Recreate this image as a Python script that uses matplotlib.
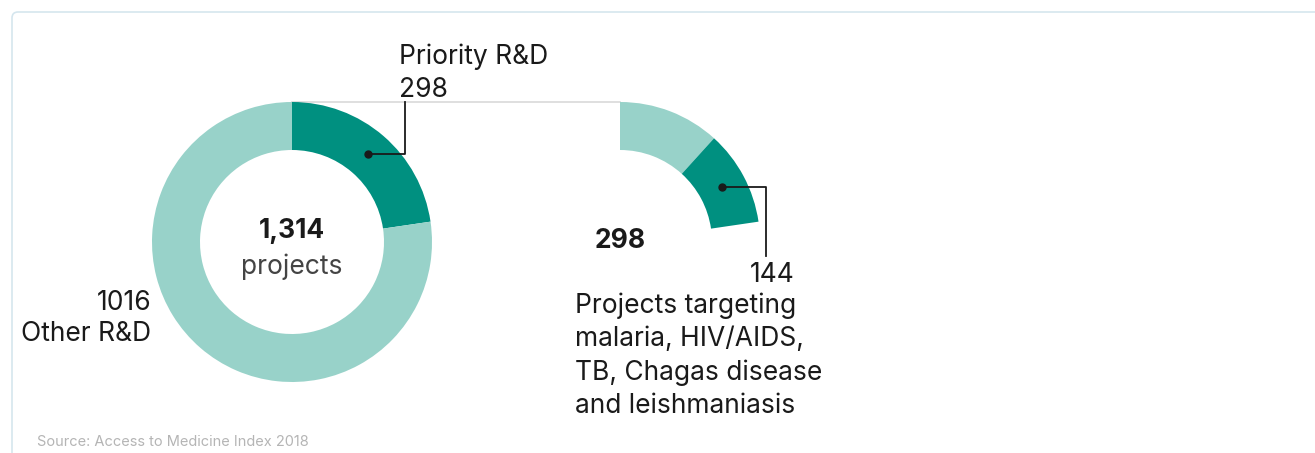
import numpy as np
import matplotlib.pyplot as plt
from matplotlib.patches import FancyBboxPatch

plt.rcParams['font.family'] = ['Inter', 'DejaVu Sans']

# data
total = 1314
groups = ["Priority R&D", "Other R&D"]
group_values = [298, 1016]
priority_split = ["Other priority", "Targeted diseases"]
priority_values = [154, 144]

light = "#98d2c9"
dark = "#009080"
ink = "#1a1a1a"

W, H = 1315, 453
fig = plt.figure(figsize=(W / 100, H / 100), dpi=100)
ax = fig.add_axes([0, 0, 1, 1])

R, width = 140, 48
c_left = (292, H - 242)
c_right = (620, H - 242)

# full donut
ax.pie(group_values, colors=[dark, light], startangle=90, counterclock=False,
       center=c_left, radius=R, wedgeprops=dict(width=width, linewidth=0))
# zoom of the priority part, same scale
ax.pie([v / total for v in priority_values], colors=[light, dark], normalize=False,
       startangle=90, counterclock=False, center=c_right, radius=R,
       wedgeprops=dict(width=width, linewidth=0))

ax.set_xlim(0, W)
ax.set_ylim(0, H)
ax.set_aspect('auto')
ax.axis('off')

# connector between the two rings
ax.plot([c_left[0], c_right[0]], [c_left[1] + R, c_right[1] + R], color="#d9d9d9", lw=1.2, zorder=0)

fs = 19

# leader for Priority R&D
rm = R - width / 2
ang = np.deg2rad(90 - 360 * group_values[0] / total / 2)
px, py = c_left[0] + rm * np.cos(ang), c_left[1] + rm * np.sin(ang)
ax.plot([px, 405, 405], [py, py, H - 102], color=ink, lw=1.3)
ax.plot(px, py, 'o', color=ink, ms=5)
ax.text(399, H - 64, groups[0], fontsize=fs, color=ink, ha='left', va='baseline')
ax.text(399, H - 97, str(group_values[0]), fontsize=fs, color=ink, ha='left', va='baseline')

# leader for targeted diseases
ang2 = np.deg2rad(90 - 360 * (priority_values[0] + priority_values[1] / 2) / total)
qx, qy = c_right[0] + rm * np.cos(ang2), c_right[1] + rm * np.sin(ang2)
ax.plot([qx, 766, 766], [qy, qy, H - 256], color=ink, lw=1.3)
ax.plot(qx, qy, 'o', color=ink, ms=5)
ax.text(795, H - 282, str(priority_values[1]), fontsize=fs, color=ink, ha='right', va='baseline')
lines = ["Projects targeting", "malaria, HIV/AIDS,", "TB, Chagas disease", "and leishmaniasis"]
for i, s in enumerate(lines):
    ax.text(575, H - 313 - 33.3 * i, s, fontsize=fs, color=ink, ha='left', va='baseline')

# centre labels
ax.text(c_left[0], H - 238, f"{total:,}", fontsize=fs, fontweight='bold', color=ink, ha='center', va='baseline')
ax.text(c_left[0], H - 274, "projects", fontsize=fs, color="#444444", ha='center', va='baseline')
ax.text(c_right[0], H - 248, str(sum(priority_values)), fontsize=fs, fontweight='bold', color=ink,
        ha='center', va='baseline')

ax.text(151, H - 310, str(group_values[1]), fontsize=fs, color=ink, ha='right', va='baseline')
ax.text(151, H - 341, groups[1], fontsize=fs, color=ink, ha='right', va='baseline')

ax.text(37, H - 446, "Source: Access to Medicine Index 2018", fontsize=10.5, color="#b5b5b5",
        ha='left', va='baseline')

# card border
fig.patches.append(FancyBboxPatch((12, -20), W, H - 12 + 20, boxstyle="round,pad=0,rounding_size=6",
                                  transform=None, fill=False, ec="#d5e6ee", lw=1.2))

fig.savefig("out.png", dpi=100, facecolor="white")
